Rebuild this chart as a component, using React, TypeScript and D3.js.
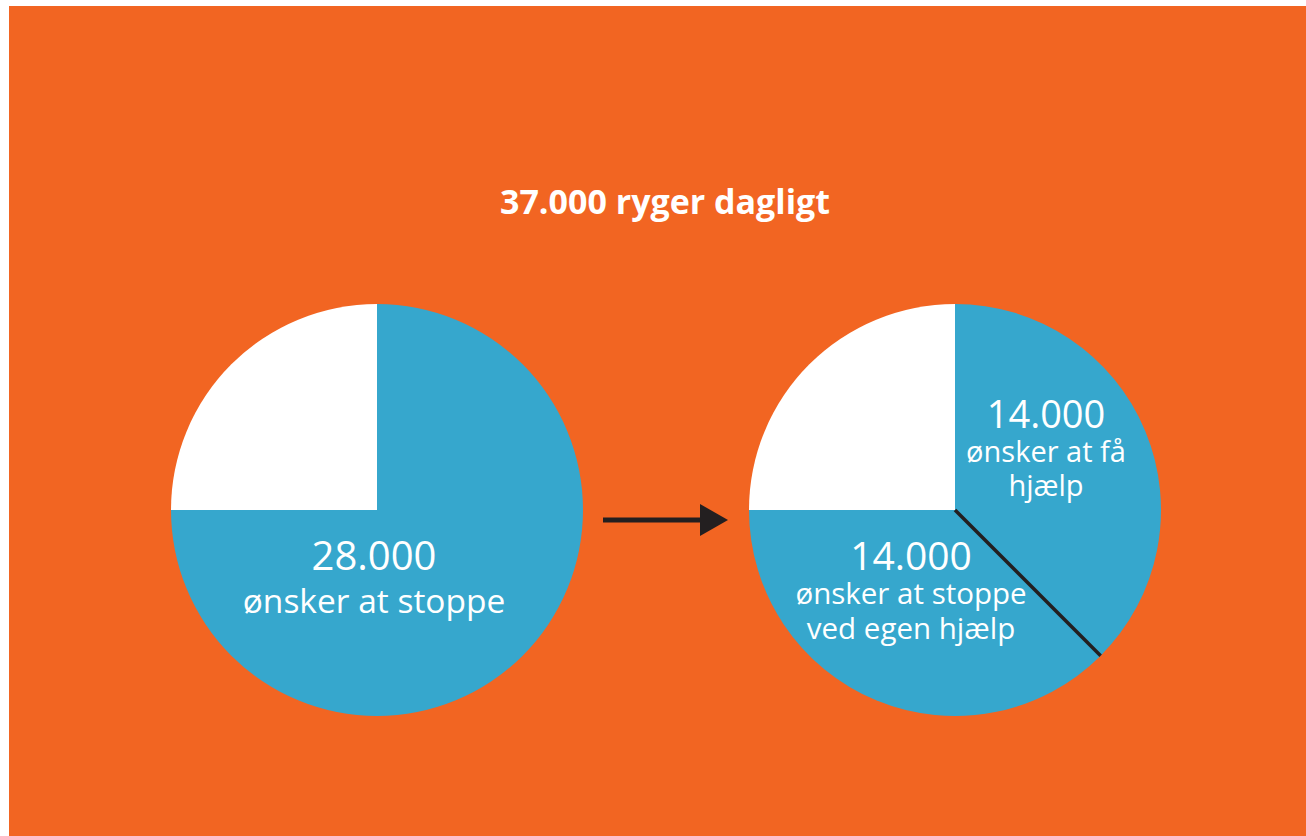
import React from "react";
import * as d3 from "d3";

const title = "37.000 ryger dagligt";

// Pie 1: daily smokers split
const pie1Categories = ["ønsker at stoppe", "øvrige"];
const pie1Values = [28000, 9333];

// Pie 2: those who want to stop, split
const pie2Categories = ["ønsker at få hjælp", "ønsker at stoppe ved egen hjælp", "øvrige"];
const pie2Values = [14000, 14000, 9333];

const pie1Labels = ["28.000", "ønsker at stoppe"];
const pie2LabelsA = ["14.000", "ønsker at få", "hjælp"];
const pie2LabelsB = ["14.000", "ønsker at stoppe", "ved egen hjælp"];

const ORANGE = "#F26522";
const BLUE = "#36A7CD";
const WHITE = "#FFFFFF";
const DARK = "#231F20";

const W = 1306;
const H = 836;
const R = 206;
const FONT = "'Open Sans', 'Noto Sans', sans-serif";

export default function App() {
  const pie = d3
    .pie<number>()
    .sort(null)
    .value((d) => d)
    .startAngle(0)
    .endAngle(2 * Math.PI);
  const arc = d3.arc<d3.PieArcDatum<number>>().innerRadius(0).outerRadius(R);

  const arcs1 = pie(pie1Values);
  const arcs2 = pie(pie2Values);
  const colors1 = [BLUE, WHITE];
  const colors2 = [BLUE, BLUE, WHITE];

  const c1 = { x: 377, y: 510 };
  const c2 = { x: 955, y: 510 };

  const divA = arcs2[0].endAngle;
  const divX = R * Math.sin(divA);
  const divY = -R * Math.cos(divA);

  return (
    <svg
      width={W}
      height={H}
      style={{ position: "absolute", left: 0, top: 0, display: "block" }}
    >
      <rect x={0} y={0} width={W} height={H} fill="#fff" />
      <rect x={9} y={6} width={W - 9} height={H - 6} fill={ORANGE} />
      <text
        x={665}
        y={214}
        textAnchor="middle"
        fill="#fff"
        fontFamily={FONT}
        fontWeight={700}
        fontSize={34}
      >
        {title}
      </text>

      <g transform={`translate(${c1.x},${c1.y})`}>
        {arcs1.map((a, i) => (
          <path key={pie1Categories[i]} d={arc(a) || ""} fill={colors1[i]} />
        ))}
        <text textAnchor="middle" fill="#fff" fontFamily={FONT}>
          <tspan x={-3} y={60} fontSize={40}>
            {pie1Labels[0]}
          </tspan>
          <tspan x={-3} y={103} fontSize={33.5}>
            {pie1Labels[1]}
          </tspan>
        </text>
      </g>

      <g>
        <line x1={603} x2={708} y1={520} y2={520} stroke={DARK} strokeWidth={5} />
        <path d="M700,504 L728,520 L700,536 Z" fill={DARK} />
      </g>

      <g transform={`translate(${c2.x},${c2.y})`}>
        {arcs2.map((a, i) => (
          <path key={pie2Categories[i]} d={arc(a) || ""} fill={colors2[i]} />
        ))}
        <line x1={0} y1={0} x2={divX} y2={divY} stroke={DARK} strokeWidth={3.5} />
        <text textAnchor="middle" fill="#fff" fontFamily={FONT}>
          <tspan x={91} y={-82} fontSize={38}>
            {pie2LabelsA[0]}
          </tspan>
          <tspan x={91} y={-48} fontSize={29}>
            {pie2LabelsA[1]}
          </tspan>
          <tspan x={91} y={-14} fontSize={29}>
            {pie2LabelsA[2]}
          </tspan>
        </text>
        <text textAnchor="middle" fill="#fff" fontFamily={FONT}>
          <tspan x={-44} y={60} fontSize={39}>
            {pie2LabelsB[0]}
          </tspan>
          <tspan x={-44} y={94} fontSize={29.5}>
            {pie2LabelsB[1]}
          </tspan>
          <tspan x={-44} y={129} fontSize={29.5}>
            {pie2LabelsB[2]}
          </tspan>
        </text>
      </g>
    </svg>
  );
}
